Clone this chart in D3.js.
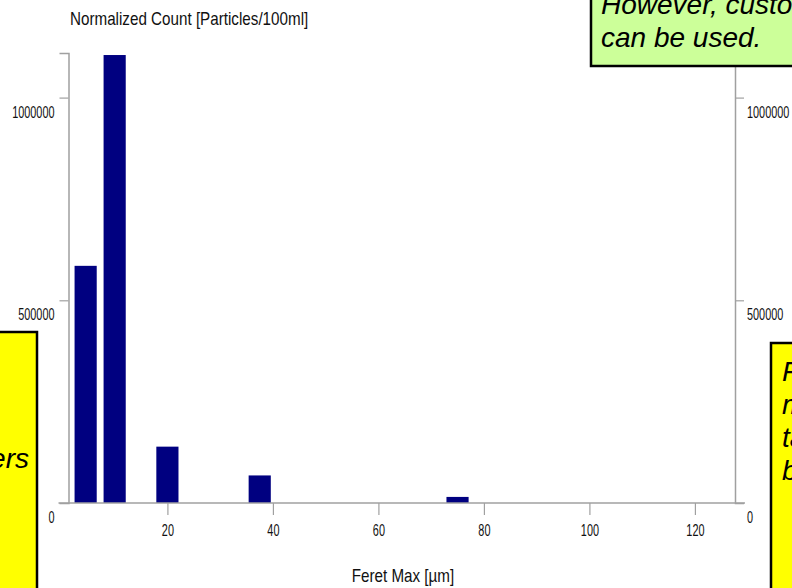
<!DOCTYPE html>
<html>
<head>
<meta charset="utf-8">
<script src="https://cdn.jsdelivr.net/npm/d3@7"></script>
<style>
  body { margin: 0; background: #fff; overflow: hidden; }
  .tick text { font-family: "Liberation Sans", Arial, sans-serif; font-size: 17px; fill: #111; }
  .ttl { font-family: "Liberation Sans", Arial, sans-serif; font-size: 19px; fill: #111; }
  .note { font-family: "Liberation Sans", Arial, sans-serif; font-style: italic; font-size: 28px; fill: #000; }
</style>
</head>
<body>
<figure id="chart" style="margin:0"></figure>
<script>
// size class centres (µm) and normalized counts
const binCenters = [4.5, 10, 20, 37.5, 75];
const counts = [585000, 1105000, 139000, 68000, 15000];
const xTicks = [20, 40, 60, 80, 100, 120];
const yTicks = [0, 500000, 1000000];
const yTitle = "Normalized Count [Particles/100ml]";
const xTitle = "Feret Max [µm]";
const greenNote = ["However, custo", "can be used."];
const leftNote = ["ers"];
const rightNote = ["F", "m", "ta", "b"];

const width = 792, height = 588;
const binWidth = 4.2;

const svg = d3.select("figure#chart")
  .append("svg")
  .attr("width", width)
  .attr("height", height);

const x = d3.scaleLinear().domain([1.25, 127.6]).range([68.5, 735]);
const y = d3.scaleLinear().domain([0, 1110000]).range([503, 53]);

// the original uses a narrow face, squeeze glyphs to get the same look
function condense(sel, f) {
  sel.each(function() {
    const w = this.getComputedTextLength();
    d3.select(this).attr("textLength", w * f).attr("lengthAdjust", "spacingAndGlyphs");
  });
}

// bars
svg.selectAll("rect.bar")
  .data(binCenters)
  .enter()
  .append("rect")
  .attr("class", "bar")
  .attr("x", d => x(d - binWidth / 2))
  .attr("width", d => x(d + binWidth / 2) - x(d - binWidth / 2))
  .attr("y", (d, i) => y(counts[i]))
  .attr("height", (d, i) => y(0) - y(counts[i]))
  .attr("fill", "#000080");

// left axis
const gl = svg.append("g")
  .attr("transform", `translate(${x.range()[0]},0)`)
  .call(d3.axisLeft(y).tickValues(yTicks).tickSize(9).tickFormat(d3.format("d")));
gl.selectAll("text").attr("x", -14).attr("dy", "1.15em");

// right axis
const gr = svg.append("g")
  .attr("transform", `translate(${x.range()[1]},0)`)
  .call(d3.axisRight(y).tickValues(yTicks).tickSize(9).tickFormat(d3.format("d")));
gr.selectAll("text").attr("x", 12).attr("dy", "1.15em");

// bottom axis
const gb = svg.append("g")
  .attr("transform", `translate(0,${y(0)})`)
  .call(d3.axisBottom(x).tickValues(xTicks).tickSize(12).tickPadding(9));
gb.select(".domain").remove();
svg.append("line")
  .attr("x1", x.range()[0] - 10).attr("x2", x.range()[1] + 10)
  .attr("y1", y(0)).attr("y2", y(0))
  .attr("stroke", "#a0a0a0").attr("stroke-width", 1.5);

svg.selectAll(".domain").attr("stroke", "#a0a0a0").attr("stroke-width", 1.5);
svg.selectAll(".tick line").attr("stroke", "#a0a0a0").attr("stroke-width", 1.2);
svg.selectAll("g.tick").filter(d => d === 0).select("line").remove();
condense(svg.selectAll(".tick text"), 0.64);

// titles
const t1 = svg.append("text").attr("class", "ttl")
  .attr("x", 70).attr("y", 25)
  .text(yTitle);
const t2 = svg.append("text").attr("class", "ttl")
  .attr("x", 403).attr("y", 582)
  .attr("text-anchor", "middle")
  .text(xTitle);
condense(t1, 0.8);
condense(t2, 0.8);

// callout boxes
function note(bx, by, bw, bh, fill, lines, tx, ty, anchor) {
  svg.append("rect")
    .attr("x", bx).attr("y", by).attr("width", bw).attr("height", bh)
    .attr("fill", fill).attr("stroke", "#000").attr("stroke-width", 2.5);
  svg.append("g").selectAll("text")
    .data(lines)
    .enter()
    .append("text")
    .attr("class", "note")
    .attr("x", tx)
    .attr("y", (d, i) => ty + i * 33)
    .attr("text-anchor", anchor)
    .text(d => d);
}
note(591, -10, 220, 76, "#ccff99", greenNote, 601, 14, "start");
note(-10, 332, 47, 270, "#ffff00", leftNote, 29, 468, "end");
note(771, 343, 40, 260, "#ffff00", rightNote, 782, 381, "start");
</script>
</body>
</html>
